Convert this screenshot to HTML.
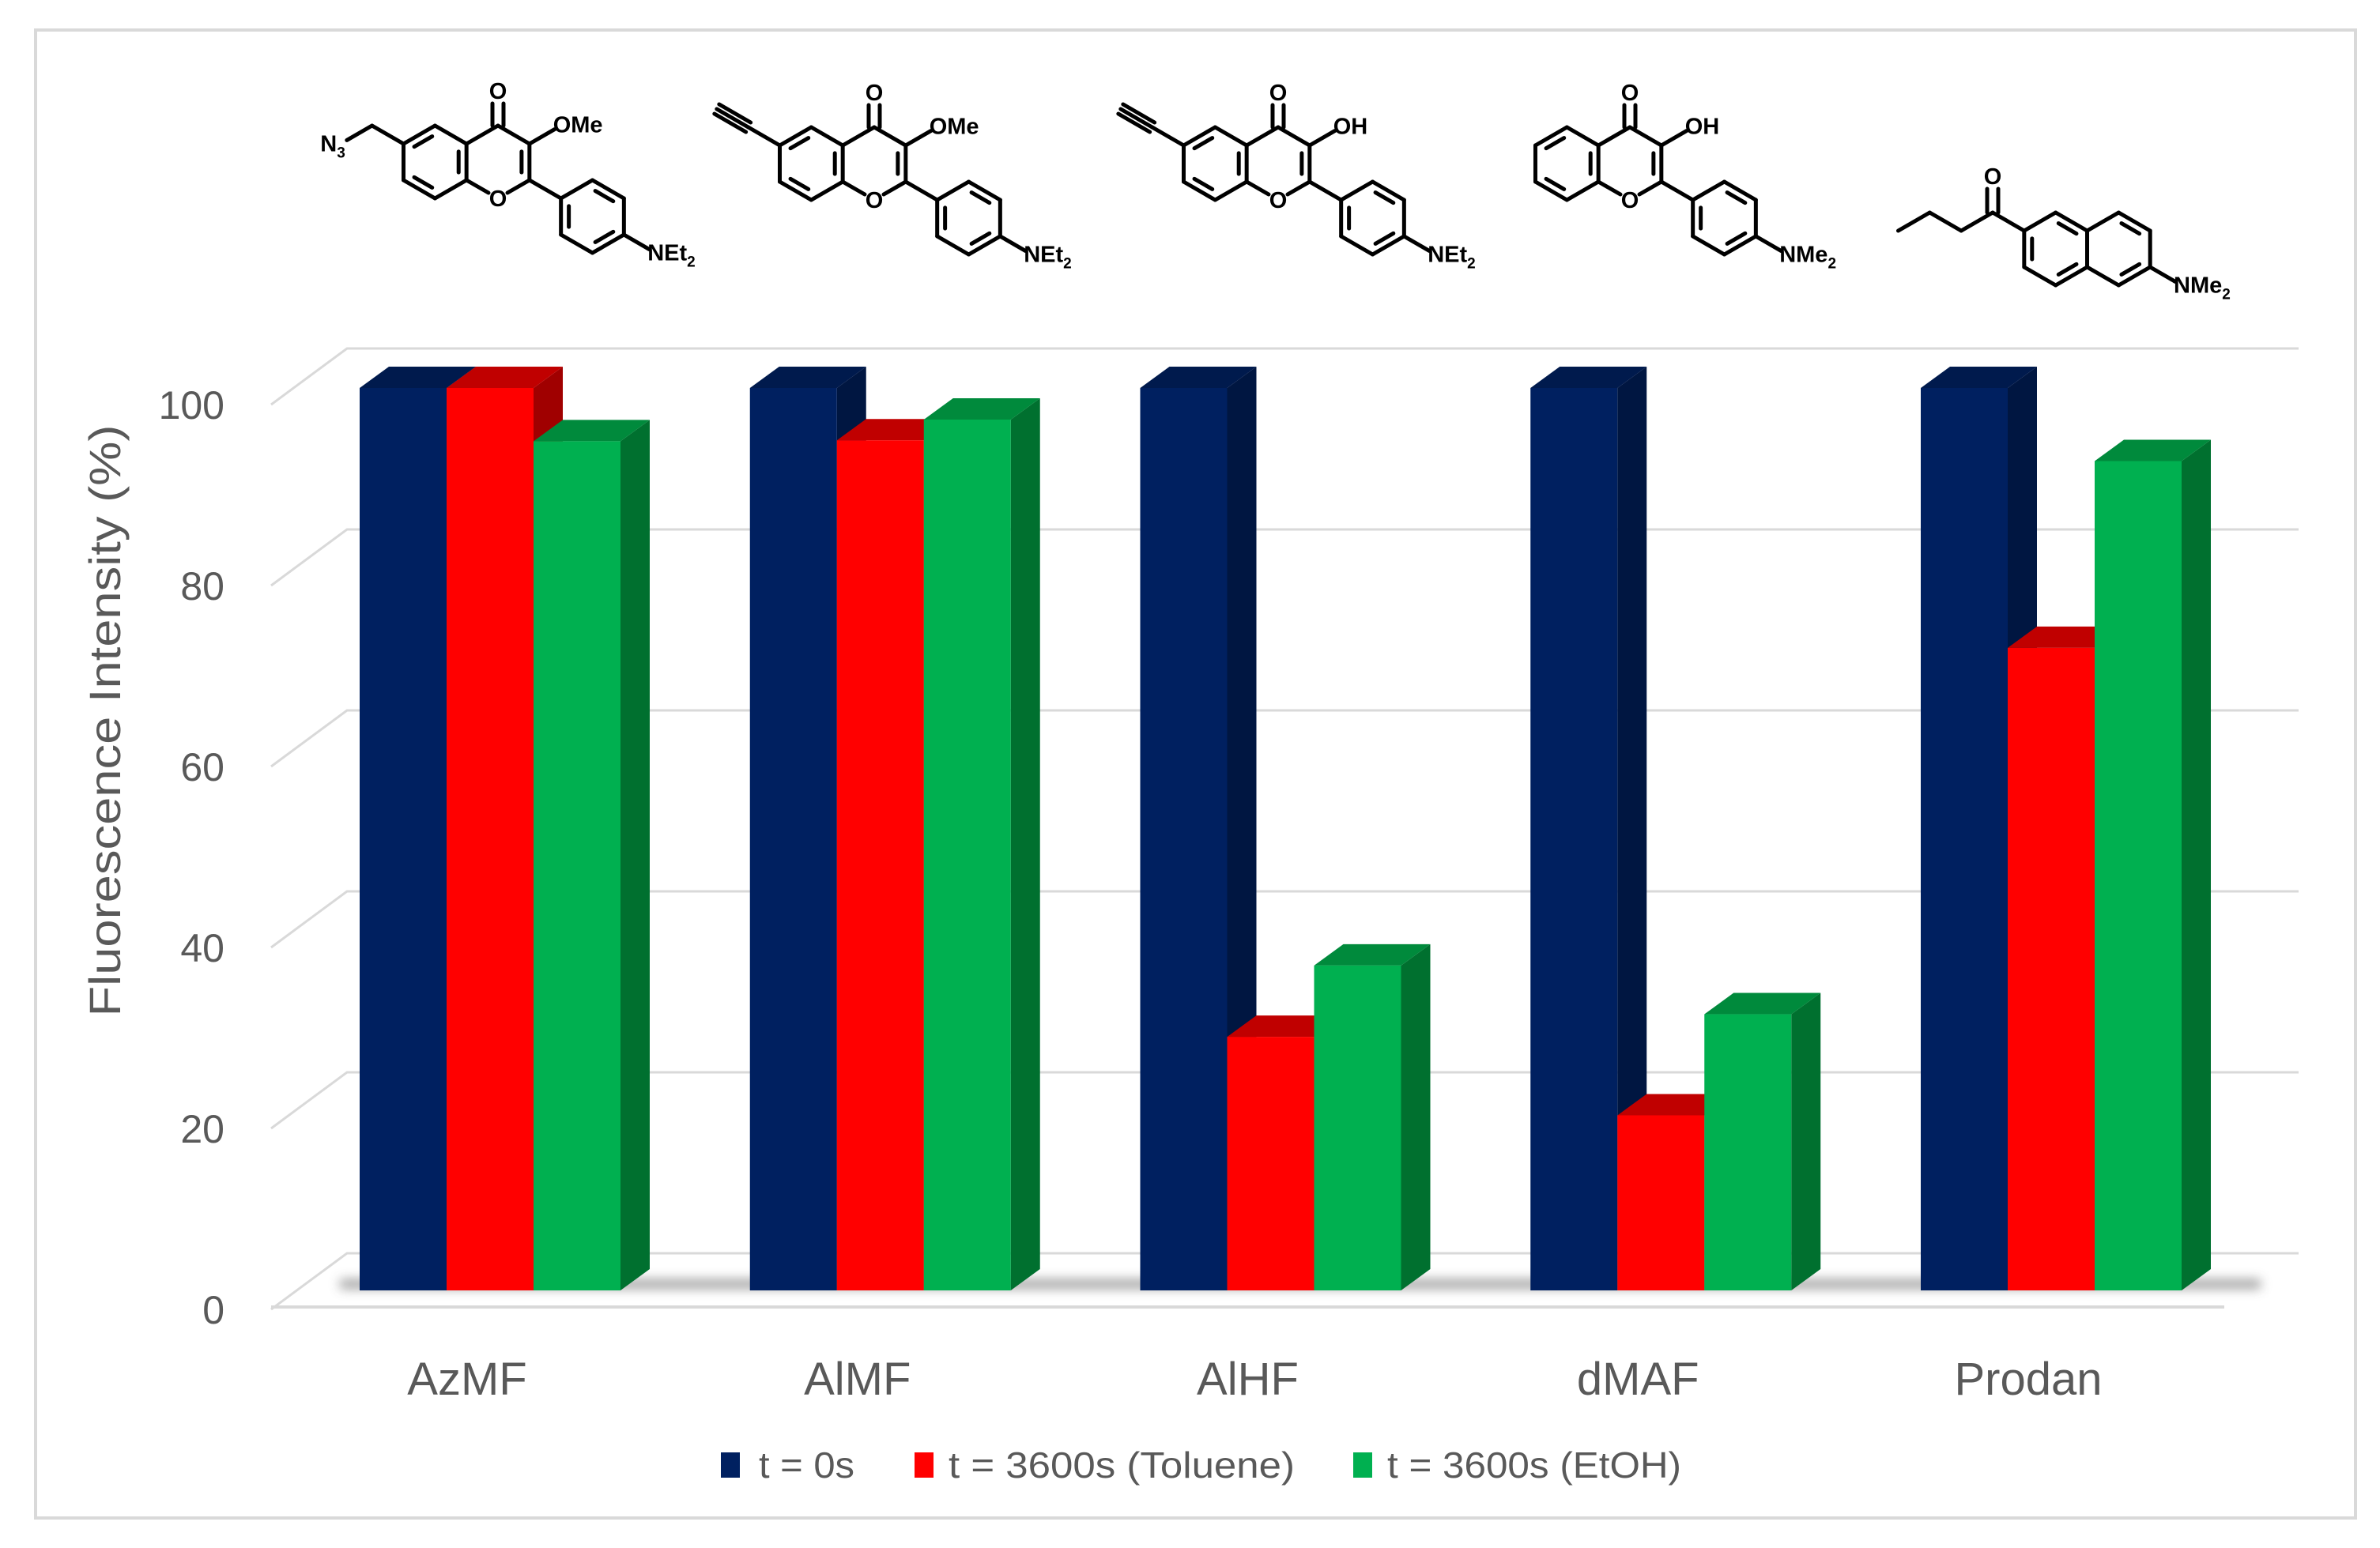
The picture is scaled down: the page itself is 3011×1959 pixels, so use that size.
<!DOCTYPE html>
<html><head><meta charset="utf-8"><style>
html,body{margin:0;padding:0;background:#fff}
svg{display:block}
.tick{font-family:"Liberation Sans",sans-serif;font-size:50px;fill:#595959}
.cat{font-family:"Liberation Sans",sans-serif;font-size:58px;fill:#595959}
.leg{font-family:"Liberation Sans",sans-serif;font-size:46px;fill:#595959}
.chem{font-family:"Liberation Sans",sans-serif;font-weight:bold;font-size:29px;fill:#000}
</style></head><body>
<svg id="chart" width="3011" height="1959" viewBox="0 0 3011 1959" xmlns="http://www.w3.org/2000/svg">
<defs><filter id="blur" x="-5%" y="-300%" width="110%" height="700%"><feGaussianBlur stdDeviation="7"/></filter></defs>
<rect x="45" y="38" width="2935" height="1883" fill="#fff" stroke="#d9d9d9" stroke-width="4"/>
<g id="grid"></g>
<g id="shadow"></g>
<g id="bars"></g>
<g id="ticks"></g>
<g id="cats"></g>
<text x="0" y="0" transform="translate(152,912) rotate(-90)" text-anchor="middle" font-family="Liberation Sans, sans-serif" font-size="56" fill="#595959" textLength="749" lengthAdjust="spacingAndGlyphs">Fluorescence Intensity (%)</text>
<g>
  <g><rect x="912" y="1838" width="24" height="32" fill="#002060"/><text class="leg" x="960" y="1870" textLength="121" lengthAdjust="spacingAndGlyphs">t = 0s</text></g>
  <g><rect x="1157" y="1838" width="24" height="32" fill="#ff0000"/><text class="leg" x="1200" y="1870" textLength="438" lengthAdjust="spacingAndGlyphs">t = 3600s (Toluene)</text></g>
  <g><rect x="1712" y="1838" width="24" height="32" fill="#00b050"/><text class="leg" x="1755" y="1870" textLength="372" lengthAdjust="spacingAndGlyphs">t = 3600s (EtOH)</text></g>
</g>
<g id="chem" stroke="#000" stroke-width="5" fill="none" stroke-linecap="round" stroke-linejoin="round"></g>
</svg>
<script>
const categories = ["AzMF","AlMF","AlHF","dMAF","Prodan"];
const seriesT0 = [100,100,100,100,100];
const seriesToluene = [100,94.2,28.1,19.4,71.2];
const seriesEtOH = [94.1,96.5,36.0,30.6,91.9];
const tickValues = [0,20,40,60,80,100];
const seriesNames = ["t0","toluene","etoh"];

const NS="http://www.w3.org/2000/svg";
function mk(tag,attrs,parent){const e=document.createElementNS(NS,tag);for(const k in attrs)e.setAttribute(k,attrs[k]);parent.appendChild(e);return e;}
const yFront = v => 1633 - v*11.42;
const yBack = v => 1586 - v*11.45;
const groupX = i => 455 + i*493.75;
const barW = 110, DX = 37, DY = 27;

const grid=document.getElementById('grid');
tickValues.forEach(t=>{
  const yb=yBack(t);
  const l=mk('polyline',{points:`343,${yb+71} 439,${yb} 2908,${yb}`,fill:'none',stroke:'#d9d9d9','stroke-width':3},grid);
  
  
  const tx=mk('text',{x:284,y:yb+71+18,'text-anchor':'end',class:'tick'},document.getElementById('ticks'));
  tx.textContent=t;
  
  
});
const base=mk('line',{x1:343,y1:1654,x2:2814,y2:1654,stroke:'#d9d9d9','stroke-width':4},grid);


const sh=mk('rect',{x:430,y:1619,width:2430,height:12,fill:'#444',opacity:0.5,filter:'url(#blur)'},document.getElementById('shadow'));



const colors=[["#002060","#001a4d","#001641"],["#ff0000","#c00000","#a00000"],["#00b050","#008a3c","#00702f"]];
const series=[seriesT0,seriesToluene,seriesEtOH];
const barsG=document.getElementById('bars');
categories.forEach((c,i)=>{
  series.forEach((s,j)=>{
    const x0=groupX(i)+j*barW, x1=x0+barW, yt=yFront(s[i]), yb=yFront(0);
    const g=mk('g',{},barsG);
    
    
    mk('polygon',{points:`${x1},${yt} ${x1+DX},${yt-DY} ${x1+DX},${yb-DY} ${x1},${yb}`,fill:colors[j][2]},g);
    mk('polygon',{points:`${x0},${yt} ${x0+DX},${yt-DY} ${x1+DX},${yt-DY} ${x1},${yt}`,fill:colors[j][1]},g);
    mk('rect',{x:x0,y:yt,width:barW,height:yb-yt,fill:colors[j][0]},g);
  });
  const t=mk('text',{x:groupX(i)+136,y:1765,'text-anchor':'middle',class:'cat'},document.getElementById('cats'));
  t.textContent=c;
  
  
});

const chem=document.getElementById('chem');
const L=46, C=Math.cos(Math.PI/6)*L, S=L/2;
function line(a,b,g){mk('line',{x1:a[0],y1:a[1],x2:b[0],y2:b[1]},g);}
function txt(x,y,s,g,anchor){const t=mk('text',{x:x,y:y,class:'chem',stroke:'none','text-anchor':anchor||'start'},g);t.innerHTML=s;return t;}
function hexV(cx,cy){return [[cx,cy-L],[cx+C,cy-S],[cx+C,cy+S],[cx,cy+L],[cx-C,cy+S],[cx-C,cy-S]];}
function inner(a,b,cx,cy,g){const f=0.75;const p=q=>[cx+(q[0]-cx)*f,cy+(q[1]-cy)*f];const A=p(a),B=p(b);const sh=[(B[0]-A[0])*0.12,(B[1]-A[1])*0.12];line([A[0]+sh[0],A[1]+sh[1]],[B[0]-sh[0],B[1]-sh[1]],g);}
function ring(cx,cy,g,dbl){const v=hexV(cx,cy);for(let k=0;k<6;k++){line(v[k],v[(k+1)%6],g);}dbl.forEach(k=>inner(v[k],v[(k+1)%6],cx,cy,g));return v;}
function flavone(cx,cy,sub,r3,amine,name){
  const g=mk('g',{},chem);
  
  
  const ax=cx-2*C;
  const A=ring(ax,cy,g,[1,3,5]);
  const c4=[cx,cy-L], c3=[cx+C,cy-S], c2=[cx+C,cy+S], o1=[cx,cy+L];
  line(A[1],c4,g); line(c4,c3,g); line(c3,c2,g); inner(c3,c2,cx,cy,g);
  line(c2,[o1[0]+12,o1[1]-7],g); line(A[2],[o1[0]-12,o1[1]-7],g);
  txt(o1[0],o1[1]+10,'O',g,'middle');
  line([c4[0]-7,c4[1]],[c4[0]-7,c4[1]-28],g); line([c4[0]+7,c4[1]],[c4[0]+7,c4[1]-28],g);
  txt(c4[0],c4[1]-34,'O',g,'middle');
  const o3=[c3[0]+C*0.8,c3[1]-S*0.8]; line(c3,o3,g); txt(o3[0]-2,o3[1]+4,r3,g);
  const b1=[c2[0]+C,c2[1]+S]; line(c2,b1,g);
  const bc=[b1[0]+C,b1[1]+S]; const B=ring(bc[0],bc[1],g,[0,2,4]);
  const n=[B[2][0]+C*0.8,B[2][1]+S*0.8]; line(B[2],n,g); txt(n[0]-2,n[1]+14,amine,g);
  const p6=A[5];
  if(sub==='N3'){const ch=[p6[0]-C,p6[1]-S]; line(p6,ch,g); const nn=[ch[0]-C*0.8,ch[1]+S*0.8]; line(ch,nn,g); txt(nn[0]-2,nn[1]+14,'N<tspan font-size="19" dy="8">3</tspan>',g,'end');}
  else if(sub==='alkyne'){const e1=[p6[0]-C,p6[1]-S]; line(p6,e1,g); const e2=[e1[0]-C,e1[1]-S]; line(e1,e2,g); line([e1[0]-3,e1[1]+6],[e2[0]-3,e2[1]+6],g); line([e1[0]+3,e1[1]-6],[e2[0]+3,e2[1]-6],g);}
}
flavone(630,205,'N3','OMe','NEt<tspan font-size="19" dy="8">2</tspan>','structure-azmf');
flavone(1106,207,'alkyne','OMe','NEt<tspan font-size="19" dy="8">2</tspan>','structure-almf');
flavone(1617,207,'alkyne','OH','NEt<tspan font-size="19" dy="8">2</tspan>','structure-alhf');
flavone(2062,207,'none','OH','NMe<tspan font-size="19" dy="8">2</tspan>','structure-dmaf');
(function(){
  const g=mk('g',{},chem);
  
  
  const k=[2521,269];
  const Lc=[k[0]+2*C,k[1]+2*S], Rc=[Lc[0]+2*C,Lc[1]];
  const A=ring(Lc[0],Lc[1],g,[0,2,4]); const B=ring(Rc[0],Rc[1],g,[0,2]);
  line(k,A[5],g);
  line([k[0]-7,k[1]],[k[0]-7,k[1]-30],g); line([k[0]+7,k[1]],[k[0]+7,k[1]-30],g);
  txt(k[0],k[1]-36,'O',g,'middle');
  const p1=[k[0]-C,k[1]+S],p2=[p1[0]-C,p1[1]-S],p3=[p2[0]-C,p2[1]+S];
  line(k,p1,g);line(p1,p2,g);line(p2,p3,g);
  const n=[B[2][0]+C*0.8,B[2][1]+S*0.8]; line(B[2],n,g); txt(n[0]-2,n[1]+14,'NMe<tspan font-size="19" dy="8">2</tspan>',g);
})();
</script>
</body></html>
